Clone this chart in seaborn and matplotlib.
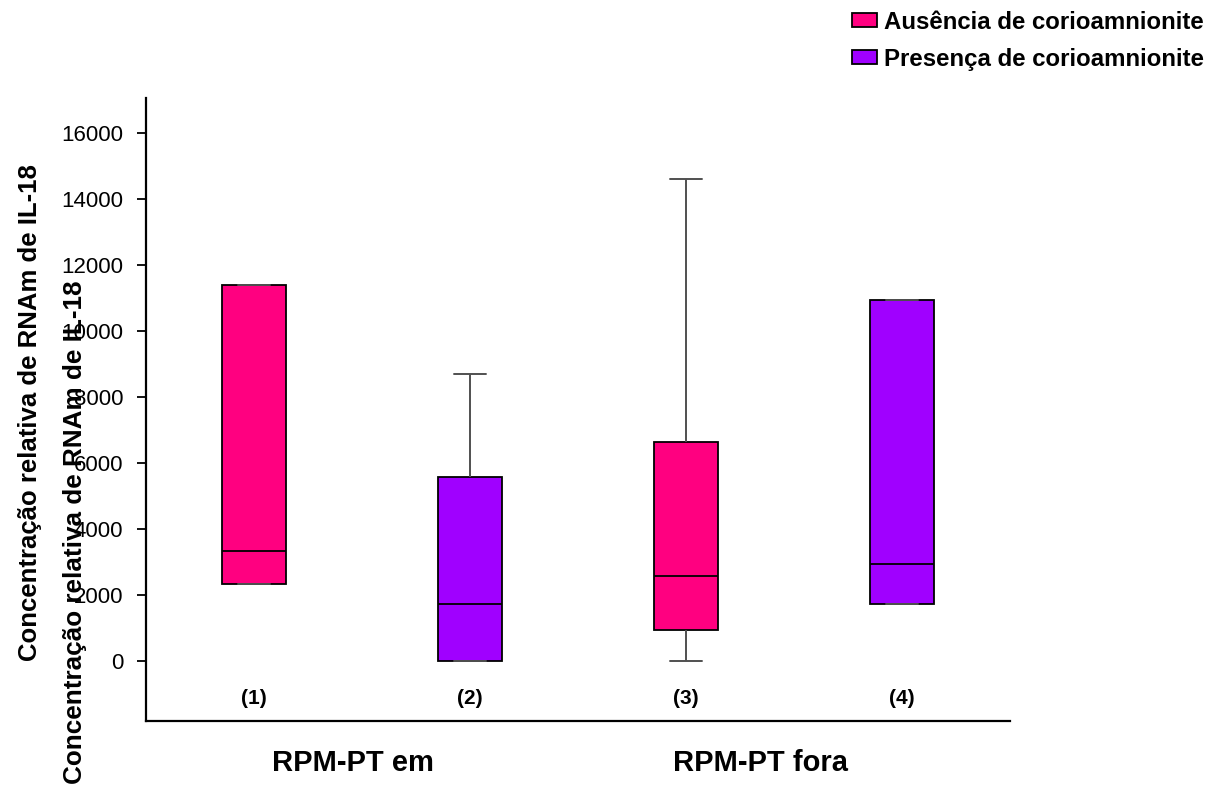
# Boxplots of IL-18 mRNA relative concentration (RPM-PT em / fora, with and without chorioamnionitis)

import matplotlib.pyplot as plt
from matplotlib.transforms import blended_transform_factory
import seaborn as sns
import numpy as np
import pandas as pd

AUS = "Ausência de corioamnionite"
PRES = "Presença de corioamnionite"

boxes = ["(1)", "(2)", "(3)", "(4)"]
conditions = [AUS, PRES, AUS, PRES]
groups = ["RPM-PT em", "RPM-PT fora"]
# five-number summaries: min, q1, median, q3, max
box1 = [2330, 2330, 3330, 11380, 11380]
box2 = [0, 0, 1730, 5580, 8680]
box3 = [0, 930, 2560, 6640, 14610]
box4 = [1720, 1720, 2950, 10940, 10940]
y_ticks = [0, 2000, 4000, 6000, 8000, 10000, 12000, 14000, 16000]
ylabel = "Concentração relativa de RNAm de IL-18"

palette = {AUS: "#FF0080", PRES: "#A000FF"}

rows = []
for name, cond, vals in zip(boxes, conditions, [box1, box2, box3, box4]):
    for v in vals:
        rows.append({"grupo": name, "condicao": cond, "valor": v})
df = pd.DataFrame(rows)

sns.set_theme(style="ticks", rc={"text.color": "black", "axes.labelcolor": "black",
                                 "xtick.color": "black", "ytick.color": "black"})
plt.rcParams["font.family"] = ["Liberation Sans", "DejaVu Sans"]

fig = plt.figure(figsize=(12.18, 7.92), dpi=100)
ax = fig.add_axes([146 / 1218, 1 - 721 / 792, (1010 - 146) / 1218, (721 - 98) / 792])

sns.boxplot(data=df, x="grupo", y="valor", hue="condicao", palette=palette,
            order=boxes, hue_order=[AUS, PRES], dodge=False, whis=np.inf,
            width=0.30, linecolor="black", linewidth=1.3, fliersize=0,
            whiskerprops=dict(color="#505050", linewidth=1.4),
            capprops=dict(color="#505050", linewidth=1.4),
            medianprops=dict(color="black", linewidth=1.3),
            saturation=1, ax=ax)

ax.set_ylim(-1820, 17050)
ax.set_xlim(-0.5, 3.5)
ax.set_yticks(y_ticks)
ax.set_yticklabels([str(t) for t in y_ticks], fontsize=16)
ax.tick_params(axis="y", length=6.5, width=1.3, color="black", pad=10)
ax.tick_params(axis="x", length=0, labelbottom=False)
ax.set_xlabel("")
ax.set_ylabel("")
for side in ["top", "right"]:
    ax.spines[side].set_visible(False)
for side in ["left", "bottom"]:
    ax.spines[side].set_linewidth(1.6)
    ax.spines[side].set_color("black")

for i, name in enumerate(boxes):
    ax.text(i, -1130, name, ha="center", va="center", fontsize=15, fontweight="bold")

trans = blended_transform_factory(ax.transData, fig.transFigure)
for xpos, name in zip([0.458, 2.343], groups):
    ax.text(xpos, 1 - 763 / 792, name, transform=trans, ha="center", va="center",
            fontsize=21, fontweight="bold")

# axis title appears twice in the original
fig.text(30 / 1218, 1 - 413 / 792, ylabel, rotation=90, ha="center", va="center",
         fontsize=18.5, fontweight="bold")
fig.text(75 / 1218, 1 - 532 / 792, ylabel, rotation=90, ha="center", va="center",
         fontsize=18.8, fontweight="bold")

handles, labels = ax.get_legend_handles_labels()
ax.legend_.remove()
for h in handles:
    h.set_edgecolor("black")
fig.legend(handles, labels, loc="upper left", bbox_to_anchor=(830 / 1218, 1 + 11 / 792),
           frameon=False, prop=dict(size=17.3, weight="bold"),
           handlelength=1.05, handleheight=0.5, handletextpad=0.3, labelspacing=0.58)

fig.savefig("out.png", dpi=100)
